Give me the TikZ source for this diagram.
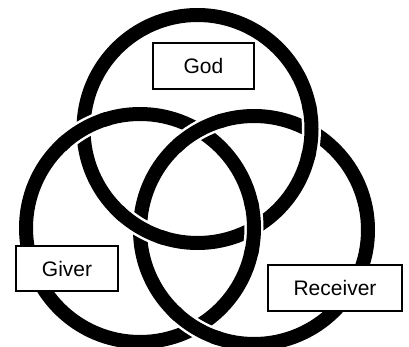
\documentclass[tikz,border=0pt]{standalone}
\usepackage{fontspec}
\setmainfont{Liberation Sans}
\usetikzlibrary{intersections}

\begin{document}
\begin{tikzpicture}[x=1pt,y=-1pt,
  ring/.style={line width=14pt},
  ringgap/.style={white,line width=19pt},
  namebox/.style={draw,fill=white,line width=1.2pt,inner sep=0pt,
    font=\fontsize{21}{25}\selectfont}]
\useasboundingbox (0,0) rectangle (409,347);
\clip (0,0) rectangle (409,347);
\coordinate (god) at (197.5,129);
\coordinate (giver) at (140,228);
\coordinate (receiver) at (254,230);
\draw[ring,name path=godring] (god) circle[radius=114pt];
\draw[ring,name path=giverring] (giver) circle[radius=114pt];
\draw[ring,name path=receiverring] (receiver) circle[radius=114pt];
% over/under: giver over god, god over receiver, receiver over giver
\path[name intersections={of=giverring and godring,name=gg}];
\path[name intersections={of=godring and receiverring,name=gr}];
\path[name intersections={of=receiverring and giverring,name=rg}];
\foreach \p/\c in {gg-1/giver,gg-2/giver,gr-1/god,gr-2/god,rg-1/receiver,rg-2/receiver}{
  \begin{scope}
    \clip (\p) circle[radius=22pt];
    \draw[ringgap] (\c) circle[radius=114pt];
  \end{scope}
  \begin{scope}
    \clip (\p) circle[radius=28pt];
    \draw[ring] (\c) circle[radius=114pt];
  \end{scope}
}
\node[namebox,minimum width=101pt,minimum height=46pt] (godbox) at (203.5,66) {God};
\node[namebox,minimum width=102pt,minimum height=45pt] (giverbox) at (67,268.5) {Giver};
\node[namebox,minimum width=134pt,minimum height=46pt] (receiverbox) at (335,288) {Receiver};
\end{tikzpicture}
\end{document}
